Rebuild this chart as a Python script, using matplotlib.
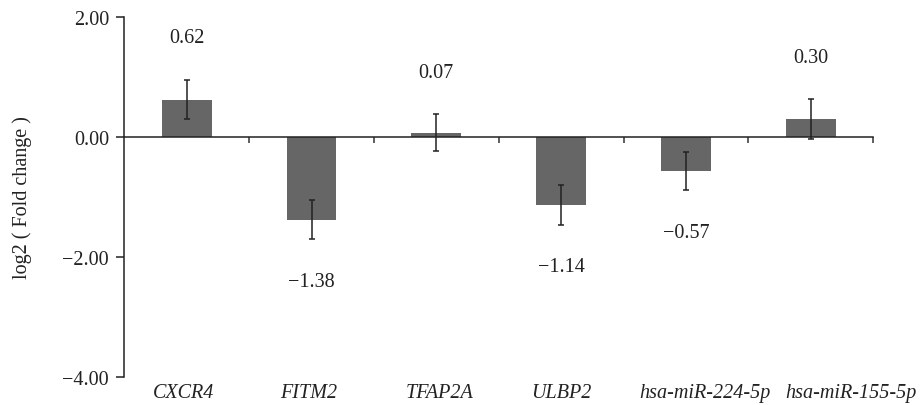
import numpy as np
import matplotlib
matplotlib.use("Agg")
import matplotlib.pyplot as plt
from matplotlib.ticker import FixedLocator

genes = ["CXCR4", "FITM2", "TFAP2A", "ULBP2", "hsa-miR-224-5p", "hsa-miR-155-5p"]
log2_fc = [0.62, -1.38, 0.07, -1.14, -0.57, 0.30]
errors = [0.33, 0.33, 0.31, 0.33, 0.32, 0.33]
value_labels = ["0.62", "\u22121.38", "0.07", "\u22121.14", "\u22120.57", "0.30"]

plt.rcParams["font.family"] = ["Liberation Serif", "DejaVu Serif"]
plt.rcParams["font.size"] = 14.5

fig = plt.figure(figsize=(9.23, 4.06), dpi=100)
ax = fig.add_axes([0.1347, 0.0697, 0.946 - 0.1347, 0.956 - 0.0697])

x = np.arange(len(genes))
ax.bar(x, log2_fc, width=0.4, color="#666666", zorder=2)
ax.errorbar(x, log2_fc, yerr=errors, fmt="none", ecolor="#222222",
            elinewidth=1.1, capsize=2.3, capthick=1.1, zorder=3)

# value labels above / below the error bars
for xi, v, e, lab in zip(x, log2_fc, errors, value_labels):
    sign = 1 if v >= 0 else -1
    ax.text(xi, v + sign * (e + 0.7), lab, ha="center", va="center",
            color="#222222")

ax.set_xlim(-0.5, len(genes) - 0.5)
ax.set_ylim(-4, 2)
ax.set_yticks([2, 0, -2, -4])
ax.set_yticklabels(["2.00", "0.00", "\u22122.00", "\u22124.00"])
ax.tick_params(axis="y", direction="out", length=6, width=1.1,
               color="#222222", pad=5, labelcolor="#222222")

# x axis at zero, ticks between categories
ax.spines["bottom"].set_position(("data", 0))
ax.spines["top"].set_visible(False)
ax.spines["right"].set_visible(False)
for s in ("left", "bottom"):
    ax.spines[s].set_linewidth(1.1)
    ax.spines[s].set_color("#222222")
ax.xaxis.set_major_locator(FixedLocator(np.arange(0.5, len(genes), 1.0)))
ax.set_xticklabels([])
ax.tick_params(axis="x", direction="out", length=4, width=1.1, color="#333333")

# category names below the plot (last two pushed right so they do not overlap)
nudge = [-3, -3, 3, 0, 19, 40]
for xi, g, dx in zip(x, genes, nudge):
    ax.annotate(g, xy=(xi, -4), xytext=(dx * 0.72, -11.5),
                textcoords="offset points", ha="center", va="center",
                style="italic", color="#222222")

ax.set_ylabel("log2 ( Fold change )", color="#222222", labelpad=22)

fig.savefig("out.png", dpi=100)
